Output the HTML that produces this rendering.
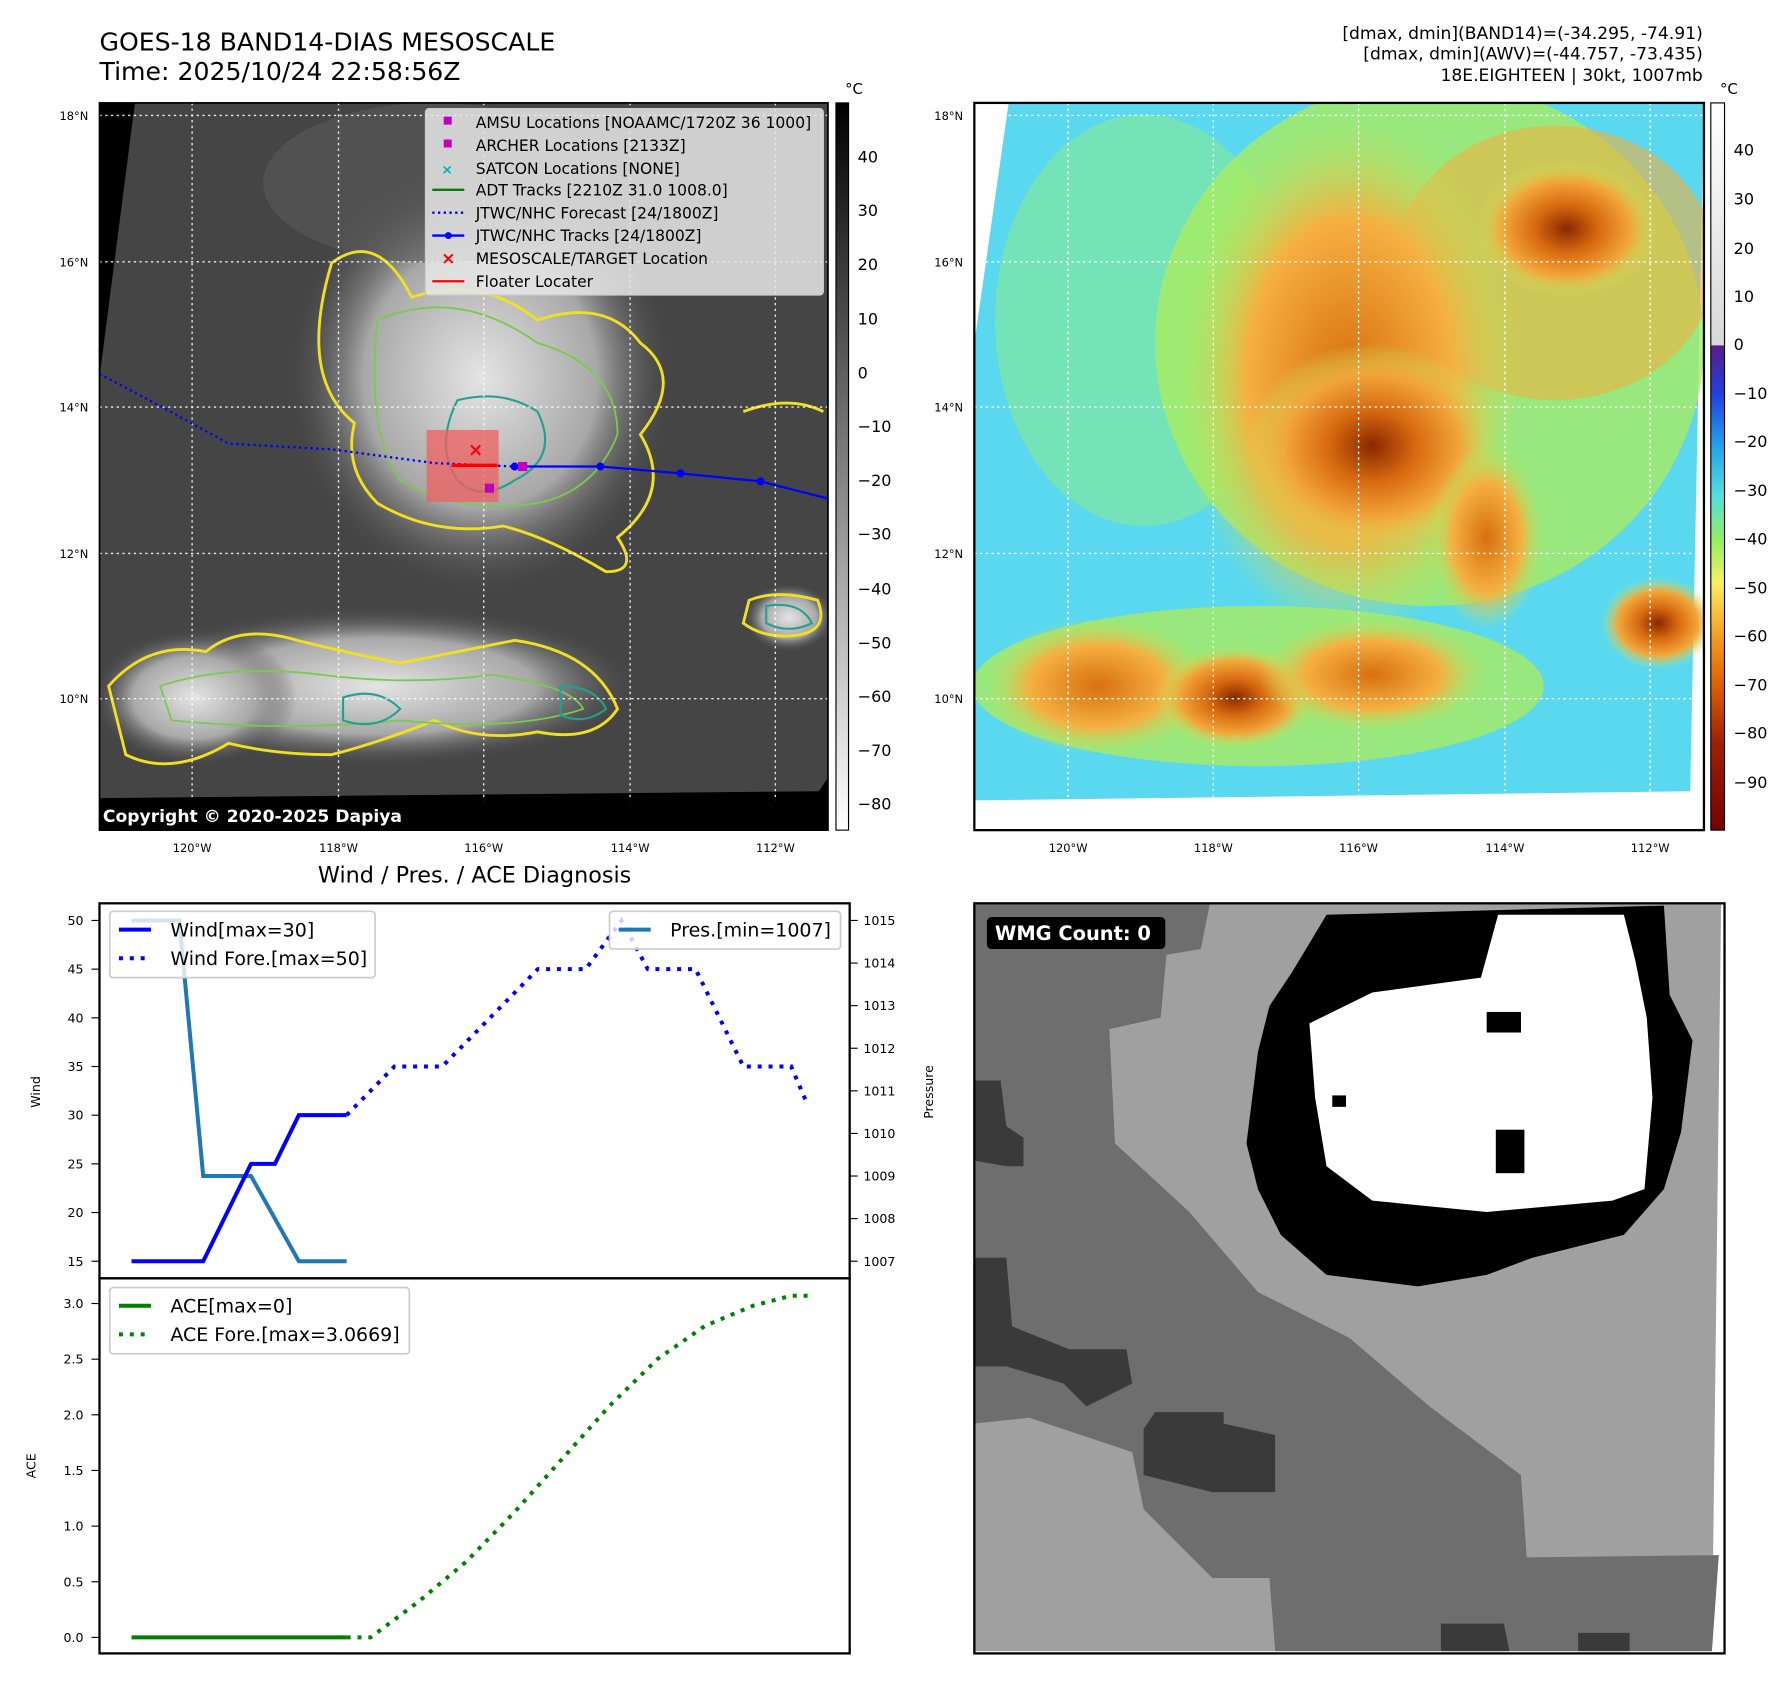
<!DOCTYPE html>
<html><head><meta charset="utf-8"><style>
html,body{margin:0;padding:0;background:#fff;}
svg{display:block;font-family:"DejaVu Sans","Liberation Sans",sans-serif;}
</style></head><body>
<svg id="fig" xmlns="http://www.w3.org/2000/svg" width="1792" height="1690" viewBox="0 0 1567 1478" preserveAspectRatio="none">
<defs>
<radialGradient id="cloudL" cx="0.5" cy="0.5" r="0.5"><stop offset="0" stop-color="#e4e4e4"/><stop offset="0.6" stop-color="#a8a8a8"/><stop offset="1" stop-color="#4a4a4a" stop-opacity="0"/></radialGradient>
<radialGradient id="orangeR" cx="0.5" cy="0.5" r="0.5"><stop offset="0" stop-color="#8a2800"/><stop offset="0.35" stop-color="#d86a10"/><stop offset="0.7" stop-color="#f2a63a"/><stop offset="1" stop-color="#c8e860" stop-opacity="0"/></radialGradient>
<radialGradient id="orangeS" cx="0.5" cy="0.5" r="0.5"><stop offset="0" stop-color="#d8700e"/><stop offset="0.6" stop-color="#f5b040"/><stop offset="1" stop-color="#b8e860" stop-opacity="0"/></radialGradient>
<linearGradient id="cbGray" x1="0" y1="0" x2="0" y2="1"><stop offset="0" stop-color="#000"/><stop offset="1" stop-color="#fff"/></linearGradient>
<linearGradient id="cbJet" x1="0" y1="0" x2="0" y2="1">
<stop offset="0" stop-color="#ffffff"/><stop offset="0.333" stop-color="#d8d8d8"/><stop offset="0.334" stop-color="#5a1a8a"/><stop offset="0.4" stop-color="#2040e0"/><stop offset="0.47" stop-color="#20a0f0"/><stop offset="0.54" stop-color="#50e0e0"/><stop offset="0.6" stop-color="#90f060"/><stop offset="0.66" stop-color="#f8f060"/><stop offset="0.73" stop-color="#f8a020"/><stop offset="0.8" stop-color="#e06000"/><stop offset="0.88" stop-color="#a02000"/><stop offset="1" stop-color="#7a0000"/></linearGradient>
<clipPath id="clipL"><rect x="87" y="90" width="637" height="636"/></clipPath>
<clipPath id="clipR"><rect x="852" y="90" width="638" height="636"/></clipPath>
<clipPath id="clipW"><rect x="852" y="790" width="656" height="656"/></clipPath>
</defs>

<text x="87" y="44" font-size="22">GOES-18 BAND14-DIAS MESOSCALE</text>
<text x="87" y="70" font-size="22">Time: 2025/10/24 22:58:56Z</text>
<g font-size="15" text-anchor="end">
<text x="1489" y="34">[dmax, dmin](BAND14)=(-34.295, -74.91)</text>
<text x="1489" y="52">[dmax, dmin](AWV)=(-44.757, -73.435)</text>
<text x="1489" y="71">18E.EIGHTEEN | 30kt, 1007mb</text>
</g>

<g clip-path="url(#clipL)">
<rect x="87" y="90" width="637" height="636" fill="#000"/>
<polygon points="118,90 724,90 724,680 716,692 87,698 87,330" fill="#454545"/>
<ellipse cx="420" cy="330" rx="170" ry="190" fill="url(#cloudL)"/>
<ellipse cx="380" cy="160" rx="150" ry="70" fill="#5a5a5a" opacity="0.6"/>
<ellipse cx="330" cy="600" rx="230" ry="70" fill="url(#cloudL)"/>
<ellipse cx="170" cy="610" rx="90" ry="60" fill="url(#cloudL)"/>
<ellipse cx="690" cy="540" rx="40" ry="30" fill="url(#cloudL)"/>
<g fill="none" stroke="#f0e020" stroke-width="2.5">
<path d="M290,230 Q330,200 360,260 Q420,240 470,280 Q530,260 560,300 Q600,330 560,380 Q590,430 540,470 Q560,500 530,500 Q480,470 440,460 Q380,470 330,440 Q300,410 310,370 Q260,330 290,230 Z"/>
<path d="M95,600 Q130,560 180,570 Q210,545 260,560 Q300,570 350,580 Q400,570 450,560 Q520,570 540,620 Q520,650 470,640 Q420,650 380,630 Q330,650 290,660 Q240,660 200,650 Q150,680 110,660 Z"/>
<path d="M655,525 Q680,515 715,525 Q725,550 700,555 Q670,560 650,545 Z"/>
<path d="M650,360 Q690,345 720,360"/>
</g>
<g fill="none" stroke="#7cc850" stroke-width="1.6">
<path d="M330,280 Q400,250 470,300 Q540,320 540,380 Q520,430 470,440 Q400,450 350,420 Q320,380 330,280 Z"/>
<path d="M140,600 Q200,580 280,590 Q360,600 430,590 Q500,600 510,620 Q450,640 350,630 Q250,640 150,630 Z"/>
</g>
<g fill="none" stroke="#20a090" stroke-width="1.8">
<path d="M400,350 Q440,340 470,360 Q490,400 450,420 Q420,440 400,420 Q380,390 400,350 Z"/>
<path d="M300,610 Q330,600 350,620 Q330,640 300,630 Z"/>
<path d="M490,600 Q520,600 530,620 Q510,635 490,625 Z"/>
<path d="M670,530 Q700,525 710,545 Q690,555 670,545 Z"/>
</g>
<g stroke="#fff" stroke-width="1.2" stroke-dasharray="2,3" opacity="0.9">
<line x1="87" y1="101" x2="724" y2="101"/><line x1="87" y1="229" x2="724" y2="229"/><line x1="87" y1="356" x2="724" y2="356"/><line x1="87" y1="484" x2="724" y2="484"/><line x1="87" y1="611" x2="724" y2="611"/>
<line x1="168" y1="90" x2="168" y2="726"/><line x1="296" y1="90" x2="296" y2="726"/><line x1="423" y1="90" x2="423" y2="726"/><line x1="551" y1="90" x2="551" y2="726"/><line x1="678" y1="90" x2="678" y2="726"/>
</g>
<rect x="373" y="376" width="63" height="63" fill="#f06060" opacity="0.75"/>
<polyline points="87,327 140,355 200,388 290,393 380,405 450,408" fill="none" stroke="#0000ff" stroke-width="2" stroke-dasharray="2,3"/>
<polyline points="450,408 525,408 595,414 665,421 724,436" fill="none" stroke="#0000ff" stroke-width="2"/>
<g fill="#0000ff"><circle cx="450" cy="408" r="3.5"/><circle cx="525" cy="408" r="3.5"/><circle cx="595" cy="414" r="3.5"/><circle cx="665" cy="421" r="3.5"/></g>
<line x1="395" y1="407" x2="435" y2="407" stroke="#ff0000" stroke-width="3"/>
<text x="416" y="399" font-size="16" fill="#ff0000" text-anchor="middle" font-weight="bold">×</text>
<rect x="453" y="404" width="8" height="8" fill="#c000c0"/>
<rect x="424" y="423" width="8" height="8" fill="#c000c0"/>
<rect x="87" y="700" width="637" height="26" fill="#000"/>
<text x="90" y="719" font-size="15" fill="#fff" font-weight="bold">Copyright © 2020-2025 Dapiya</text>
</g>
<rect x="87" y="90" width="637" height="636" fill="none" stroke="#000" stroke-width="1.5"/>

<g font-size="13.6">
<rect x="372" y="95" width="348" height="163" rx="3" fill="#e8e8e8" fill-opacity="0.85" stroke="#ccc"/>
<rect x="388" y="102" width="7" height="7" fill="#c000c0"/><text x="416" y="112">AMSU Locations [NOAAMC/1720Z 36 1000]</text>
<rect x="388" y="122" width="7" height="7" fill="#c000c0"/><text x="416" y="132">ARCHER Locations [2133Z]</text>
<text x="391" y="152" fill="#00b0b0" font-size="12" text-anchor="middle" font-weight="bold">×</text><text x="416" y="152">SATCON Locations [NONE]</text>
<line x1="378" y1="166" x2="406" y2="166" stroke="#008000" stroke-width="2"/><text x="416" y="171">ADT Tracks [2210Z 31.0 1008.0]</text>
<line x1="378" y1="186" x2="406" y2="186" stroke="#0000ff" stroke-width="2" stroke-dasharray="2,3"/><text x="416" y="191">JTWC/NHC Forecast [24/1800Z]</text>
<line x1="378" y1="206" x2="406" y2="206" stroke="#0000ff" stroke-width="2"/><circle cx="392" cy="206" r="3" fill="#0000ff"/><text x="416" y="211">JTWC/NHC Tracks [24/1800Z]</text>
<text x="392" y="231" fill="#ff0000" font-size="15" text-anchor="middle" font-weight="bold">×</text><text x="416" y="231">MESOSCALE/TARGET Location</text>
<line x1="378" y1="246" x2="406" y2="246" stroke="#ff0000" stroke-width="2"/><text x="416" y="251">Floater Locater</text>
</g>

<g font-size="10" fill="#000">
<text x="52" y="105">18°N</text><text x="52" y="233">16°N</text><text x="52" y="360">14°N</text><text x="52" y="488">12°N</text><text x="52" y="615">10°N</text>
<g text-anchor="middle"><text x="168" y="745">120°W</text><text x="296" y="745">118°W</text><text x="423" y="745">116°W</text><text x="551" y="745">114°W</text><text x="678" y="745">112°W</text></g>
</g>
<rect x="731" y="90" width="11" height="636" fill="url(#cbGray)" stroke="#000" stroke-width="1"/>
<g font-size="14">
<text x="739" y="82" font-size="13">°C</text>
<text x="750" y="142">40</text><text x="750" y="189">30</text><text x="750" y="236">20</text><text x="750" y="284">10</text><text x="750" y="331">0</text><text x="750" y="378">−10</text><text x="750" y="425">−20</text><text x="750" y="472">−30</text><text x="750" y="520">−40</text><text x="750" y="567">−50</text><text x="750" y="614">−60</text><text x="750" y="661">−70</text><text x="750" y="708">−80</text>
</g>

<g clip-path="url(#clipR)">
<rect x="852" y="90" width="638" height="636" fill="#fff"/>
<polygon points="882,90 1490,90 1478,692 852,700 852,300" fill="#5ad8f0"/>
<ellipse cx="1000" cy="280" rx="130" ry="180" fill="#80e8a0" opacity="0.7"/>
<ellipse cx="1250" cy="300" rx="240" ry="230" fill="#a8ec60" opacity="0.8"/>
<ellipse cx="1360" cy="230" rx="140" ry="120" fill="#f0b040" opacity="0.6"/>
<ellipse cx="1180" cy="330" rx="150" ry="230" fill="url(#orangeS)"/>
<ellipse cx="1200" cy="390" rx="110" ry="90" fill="url(#orangeR)"/>
<ellipse cx="1370" cy="200" rx="80" ry="60" fill="url(#orangeR)"/>
<ellipse cx="1100" cy="600" rx="250" ry="70" fill="#a8ec60" opacity="0.8"/>
<ellipse cx="960" cy="600" rx="100" ry="60" fill="url(#orangeS)"/>
<ellipse cx="1080" cy="610" rx="70" ry="45" fill="url(#orangeR)"/>
<ellipse cx="1200" cy="590" rx="100" ry="50" fill="url(#orangeS)"/>
<ellipse cx="1450" cy="545" rx="50" ry="40" fill="url(#orangeR)"/>
<ellipse cx="1300" cy="470" rx="50" ry="80" fill="url(#orangeS)"/>
<g stroke="#fff" stroke-width="1.2" stroke-dasharray="2,3">
<line x1="852" y1="101" x2="1490" y2="101"/><line x1="852" y1="229" x2="1490" y2="229"/><line x1="852" y1="356" x2="1490" y2="356"/><line x1="852" y1="484" x2="1490" y2="484"/><line x1="852" y1="611" x2="1490" y2="611"/>
<line x1="934" y1="90" x2="934" y2="726"/><line x1="1061" y1="90" x2="1061" y2="726"/><line x1="1188" y1="90" x2="1188" y2="726"/><line x1="1316" y1="90" x2="1316" y2="726"/><line x1="1443" y1="90" x2="1443" y2="726"/>
</g>
</g>
<rect x="852" y="90" width="638" height="636" fill="none" stroke="#000" stroke-width="2"/>
<g font-size="10">
<text x="817" y="105">18°N</text><text x="817" y="233">16°N</text><text x="817" y="360">14°N</text><text x="817" y="488">12°N</text><text x="817" y="615">10°N</text>
<g text-anchor="middle"><text x="934" y="745">120°W</text><text x="1061" y="745">118°W</text><text x="1188" y="745">116°W</text><text x="1316" y="745">114°W</text><text x="1443" y="745">112°W</text></g>
</g>
<rect x="1496" y="90" width="12" height="636" fill="url(#cbJet)" stroke="#000" stroke-width="1"/>
<g font-size="14">
<text x="1504" y="82" font-size="13">°C</text>
<text x="1516" y="136">40</text><text x="1516" y="179">30</text><text x="1516" y="222">20</text><text x="1516" y="264">10</text><text x="1516" y="306">0</text><text x="1516" y="349">−10</text><text x="1516" y="391">−20</text><text x="1516" y="434">−30</text><text x="1516" y="476">−40</text><text x="1516" y="519">−50</text><text x="1516" y="561">−60</text><text x="1516" y="604">−70</text><text x="1516" y="646">−80</text><text x="1516" y="689">−90</text>
</g>

<g clip-path="url(#clipW)">
<rect x="852" y="790" width="656" height="656" fill="#fff"/>
<polygon points="852,790 1505,790 1497,1444 852,1444" fill="#a0a0a0"/>
<polygon points="852,790 1058,790 1050,830 1020,835 1015,890 970,900 975,1000 1040,1060 1100,1130 1180,1170 1250,1230 1330,1290 1335,1362 1503,1360 1497,1444 1115,1444 1110,1380 1060,1380 1000,1320 990,1270 900,1240 852,1245" fill="#6e6e6e"/>
<polygon points="852,1245 900,1240 990,1270 1000,1320 1060,1380 1110,1380 1115,1444 852,1444" fill="#a0a0a0"/>
<g fill="#3a3a3a">
<polygon points="852,945 875,945 880,985 895,995 895,1020 880,1020 852,1015"/>
<polygon points="852,1100 880,1100 885,1160 935,1180 985,1180 990,1210 950,1230 930,1210 880,1195 852,1195"/>
<polygon points="1000,1250 1010,1235 1070,1235 1070,1245 1115,1255 1115,1305 1060,1305 1000,1290"/>
<polygon points="1260,1420 1315,1420 1320,1444 1260,1444"/>
<polygon points="1380,1428 1425,1428 1425,1444 1380,1444"/>
</g>
<path d="M1160,800 L1455,792 L1460,870 L1480,910 L1470,990 L1455,1040 L1420,1080 L1340,1100 L1300,1115 L1240,1125 L1160,1115 L1120,1080 L1100,1040 L1090,1000 L1100,920 L1110,880 L1130,850 Z" fill="#000"/>
<path d="M1145,895 L1200,868 L1295,855 L1310,800 L1420,800 L1430,840 L1440,890 L1445,960 L1438,1040 L1410,1050 L1300,1060 L1200,1050 L1160,1020 L1150,960 Z" fill="#fff"/>
<g fill="#000"><rect x="1308" y="988" width="25" height="38"/><rect x="1300" y="885" width="30" height="18"/><rect x="1165" y="958" width="12" height="10"/></g>
<rect x="863" y="802" width="156" height="28" rx="4" fill="#000"/>
<text x="870" y="822" font-size="17" font-weight="bold" fill="#fff">WMG Count: 0</text>
</g>
<rect x="852" y="790" width="656" height="656" fill="none" stroke="#000" stroke-width="2"/>

<text x="415" y="772" font-size="19.5" text-anchor="middle">Wind / Pres. / ACE Diagnosis</text>
<g id="diag"></g>
</svg>

<script>
// x in 6h-step index units
const windHistT = [0, 3, 5, 6, 7, 9];
const windHistV = [15, 15, 25, 25, 30, 30];
const windForeT = [9, 11, 13, 15, 17, 19, 20.5, 21.6, 23.6, 25.6, 27.6, 28.3];
const windForeV = [30, 35, 35, 40, 45, 45, 50, 45, 45, 35, 35, 31];
const presT = [0, 2, 3, 5, 7, 9];
const presV = [1015, 1015, 1009, 1009, 1007, 1007];
const aceHistT = [0, 9];
const aceHistV = [0, 0];
const aceForeT = [9, 10, 12, 14, 16, 18, 20, 22, 24, 26, 27.6, 28.3];
const aceForeV = [0, 0, 0.32, 0.68, 1.12, 1.6, 2.08, 2.5, 2.8, 2.98, 3.07, 3.07];
const windTicks = [15, 20, 25, 30, 35, 40, 45, 50];
const presTicks = [1007, 1008, 1009, 1010, 1011, 1012, 1013, 1014, 1015];
const aceTicks = [0, 0.5, 1.0, 1.5, 2.0, 2.5, 3.0];

const NS = 'http://www.w3.org/2000/svg';
const g = document.getElementById('diag');
const xS = t => 115 + t * 20.9;
const yW = v => 1103 + (v - 15) * (805 - 1103) / 35;
const yP = v => 1103 + (v - 1007) * (805 - 1103) / 8;
const yA = v => 1432 + v * (1140 - 1432) / 3;
function mk(tag, attrs, parent) { const e = document.createElementNS(NS, tag); for (const k in attrs) e.setAttribute(k, attrs[k]); (parent || g).appendChild(e); return e; }
function line(ts, vs, ys, color, dash, name) {
  const e = mk('polyline', { points: ts.map((t, i) => xS(t) + ',' + ys(vs[i])).join(' '), fill: 'none', stroke: color, 'stroke-width': 3.5 });
  if (dash) e.setAttribute('stroke-dasharray', '3.5,6');
  
  
}
function txt(x, y, s, size, anchor, parent) { const e = mk('text', { x, y, 'font-size': size, 'text-anchor': anchor || 'start' }, parent); e.textContent = s; return e; }

mk('rect', { x: 87, y: 790, width: 656, height: 328, fill: '#fff', stroke: '#000', 'stroke-width': 2 });
mk('rect', { x: 87, y: 1118, width: 656, height: 328, fill: '#fff', stroke: '#000', 'stroke-width': 2 });
windTicks.forEach(v => { mk('line', { x1: 80, x2: 87, y1: yW(v), y2: yW(v), stroke: '#000' }); txt(73, yW(v) + 4, String(v), 11, 'end'); });
presTicks.forEach(v => { mk('line', { x1: 743, x2: 750, y1: yP(v), y2: yP(v), stroke: '#000' }); txt(755, yP(v) + 4, String(v), 11); });
aceTicks.forEach(v => { mk('line', { x1: 80, x2: 87, y1: yA(v), y2: yA(v), stroke: '#000' }); txt(73, yA(v) + 4, v.toFixed(1), 11, 'end'); });
const wl = txt(0, 0, 'Wind', 11, 'middle'); wl.setAttribute('transform', 'translate(35,955) rotate(-90)');
const pl = txt(0, 0, 'Pressure', 11, 'middle'); pl.setAttribute('transform', 'translate(816,955) rotate(-90)');
const al = txt(0, 0, 'ACE', 11, 'middle'); al.setAttribute('transform', 'translate(31,1282) rotate(-90)');

line(presT, presV, yP, '#1f77b4', false, 'pressure-line');
line(windHistT, windHistV, yW, '#0000ff', false, 'wind-line');
line(windForeT, windForeV, yW, '#0000ff', true, 'wind-forecast-line');
line(aceHistT, aceHistV, yA, '#008000', false, 'ace-line');
line(aceForeT, aceForeV, yA, '#008000', true, 'ace-forecast-line');

function legend(x, y, w, items, name) {
  const lg = mk('g', {});
  
  
  mk('rect', { x, y, width: w, height: items.length * 25 + 8, rx: 3, fill: '#fff', 'fill-opacity': 0.8, stroke: '#ccc', 'stroke-width': 1.5 }, lg);
  items.forEach((it, i) => {
    const yy = y + 16 + i * 25;
    const l = mk('line', { x1: x + 8, x2: x + 36, y1: yy, y2: yy, stroke: it[1], 'stroke-width': 3.5 }, lg);
    if (it[2]) l.setAttribute('stroke-dasharray', '3.5,6');
    txt(x + 53, yy + 6, it[0], 16.6, 'start', lg);
  });
}
legend(96, 797, 232, [['Wind[max=30]', '#0000ff', 0], ['Wind Fore.[max=50]', '#0000ff', 1]], 'wind-legend');
legend(533, 797, 202, [['Pres.[min=1007]', '#1f77b4', 0]], 'pressure-legend');
legend(96, 1126, 262, [['ACE[max=0]', '#008000', 0], ['ACE Fore.[max=3.0669]', '#008000', 1]], 'ace-legend');
</script>
</body></html>
